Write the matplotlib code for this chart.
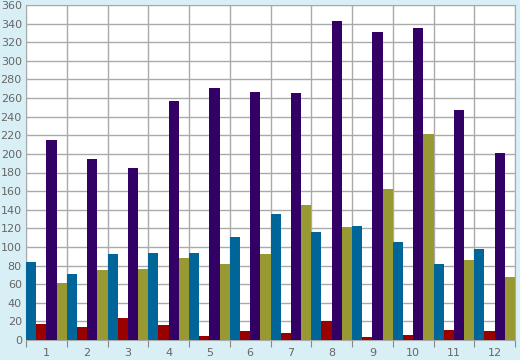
import numpy as np
from matplotlib import pyplot as plt

groups = [str(i) for i in range(1, 13)]
blue = [84, 71, 92, 93, 93, 111, 135, 116, 123, 105, 82, 98]
red = [17, 14, 24, 16, 4, 10, 8, 20, 3, 5, 11, 10]
purple = [215, 194, 185, 257, 271, 267, 265, 343, 331, 335, 247, 201]
olive = [61, 75, 76, 88, 82, 92, 145, 121, 162, 221, 86, 68]

series = [blue, red, purple, olive]
colors = ['#006699', '#990000', '#330066', '#999933']

fig = plt.figure(figsize=(5.2, 3.6), dpi=100, facecolor='#d9eff6')
ax = fig.add_axes([26 / 520, 20 / 360, 489 / 520, 335 / 360])

x = np.arange(1, 13)
w = 0.25
for i, (vals, c) in enumerate(zip(series, colors)):
    ax.bar(x + (i - 1.5) * w, vals, width=w, color=c, zorder=3)

ax.set_xlim(0.5, 12.5)
ax.set_ylim(0, 360)
ax.set_yticks(range(0, 361, 20))
ax.set_xticks(np.arange(0.5, 13, 1))
ax.set_xticklabels([])
ax.set_xticks(x, minor=True)
ax.set_xticklabels(groups, minor=True)

ax.grid(True, color='#aaaaaa', linewidth=1, zorder=0)
ax.tick_params(axis='x', which='major', length=5, color='#888888', direction='out')
ax.tick_params(axis='x', which='minor', length=0, labelsize=8, labelcolor='#666666', pad=6)
ax.tick_params(axis='y', length=0, labelsize=8, labelcolor='#666666', pad=3)
for s in ax.spines.values():
    s.set_color('#aaaaaa')

fig.savefig('out.png', facecolor=fig.get_facecolor())
